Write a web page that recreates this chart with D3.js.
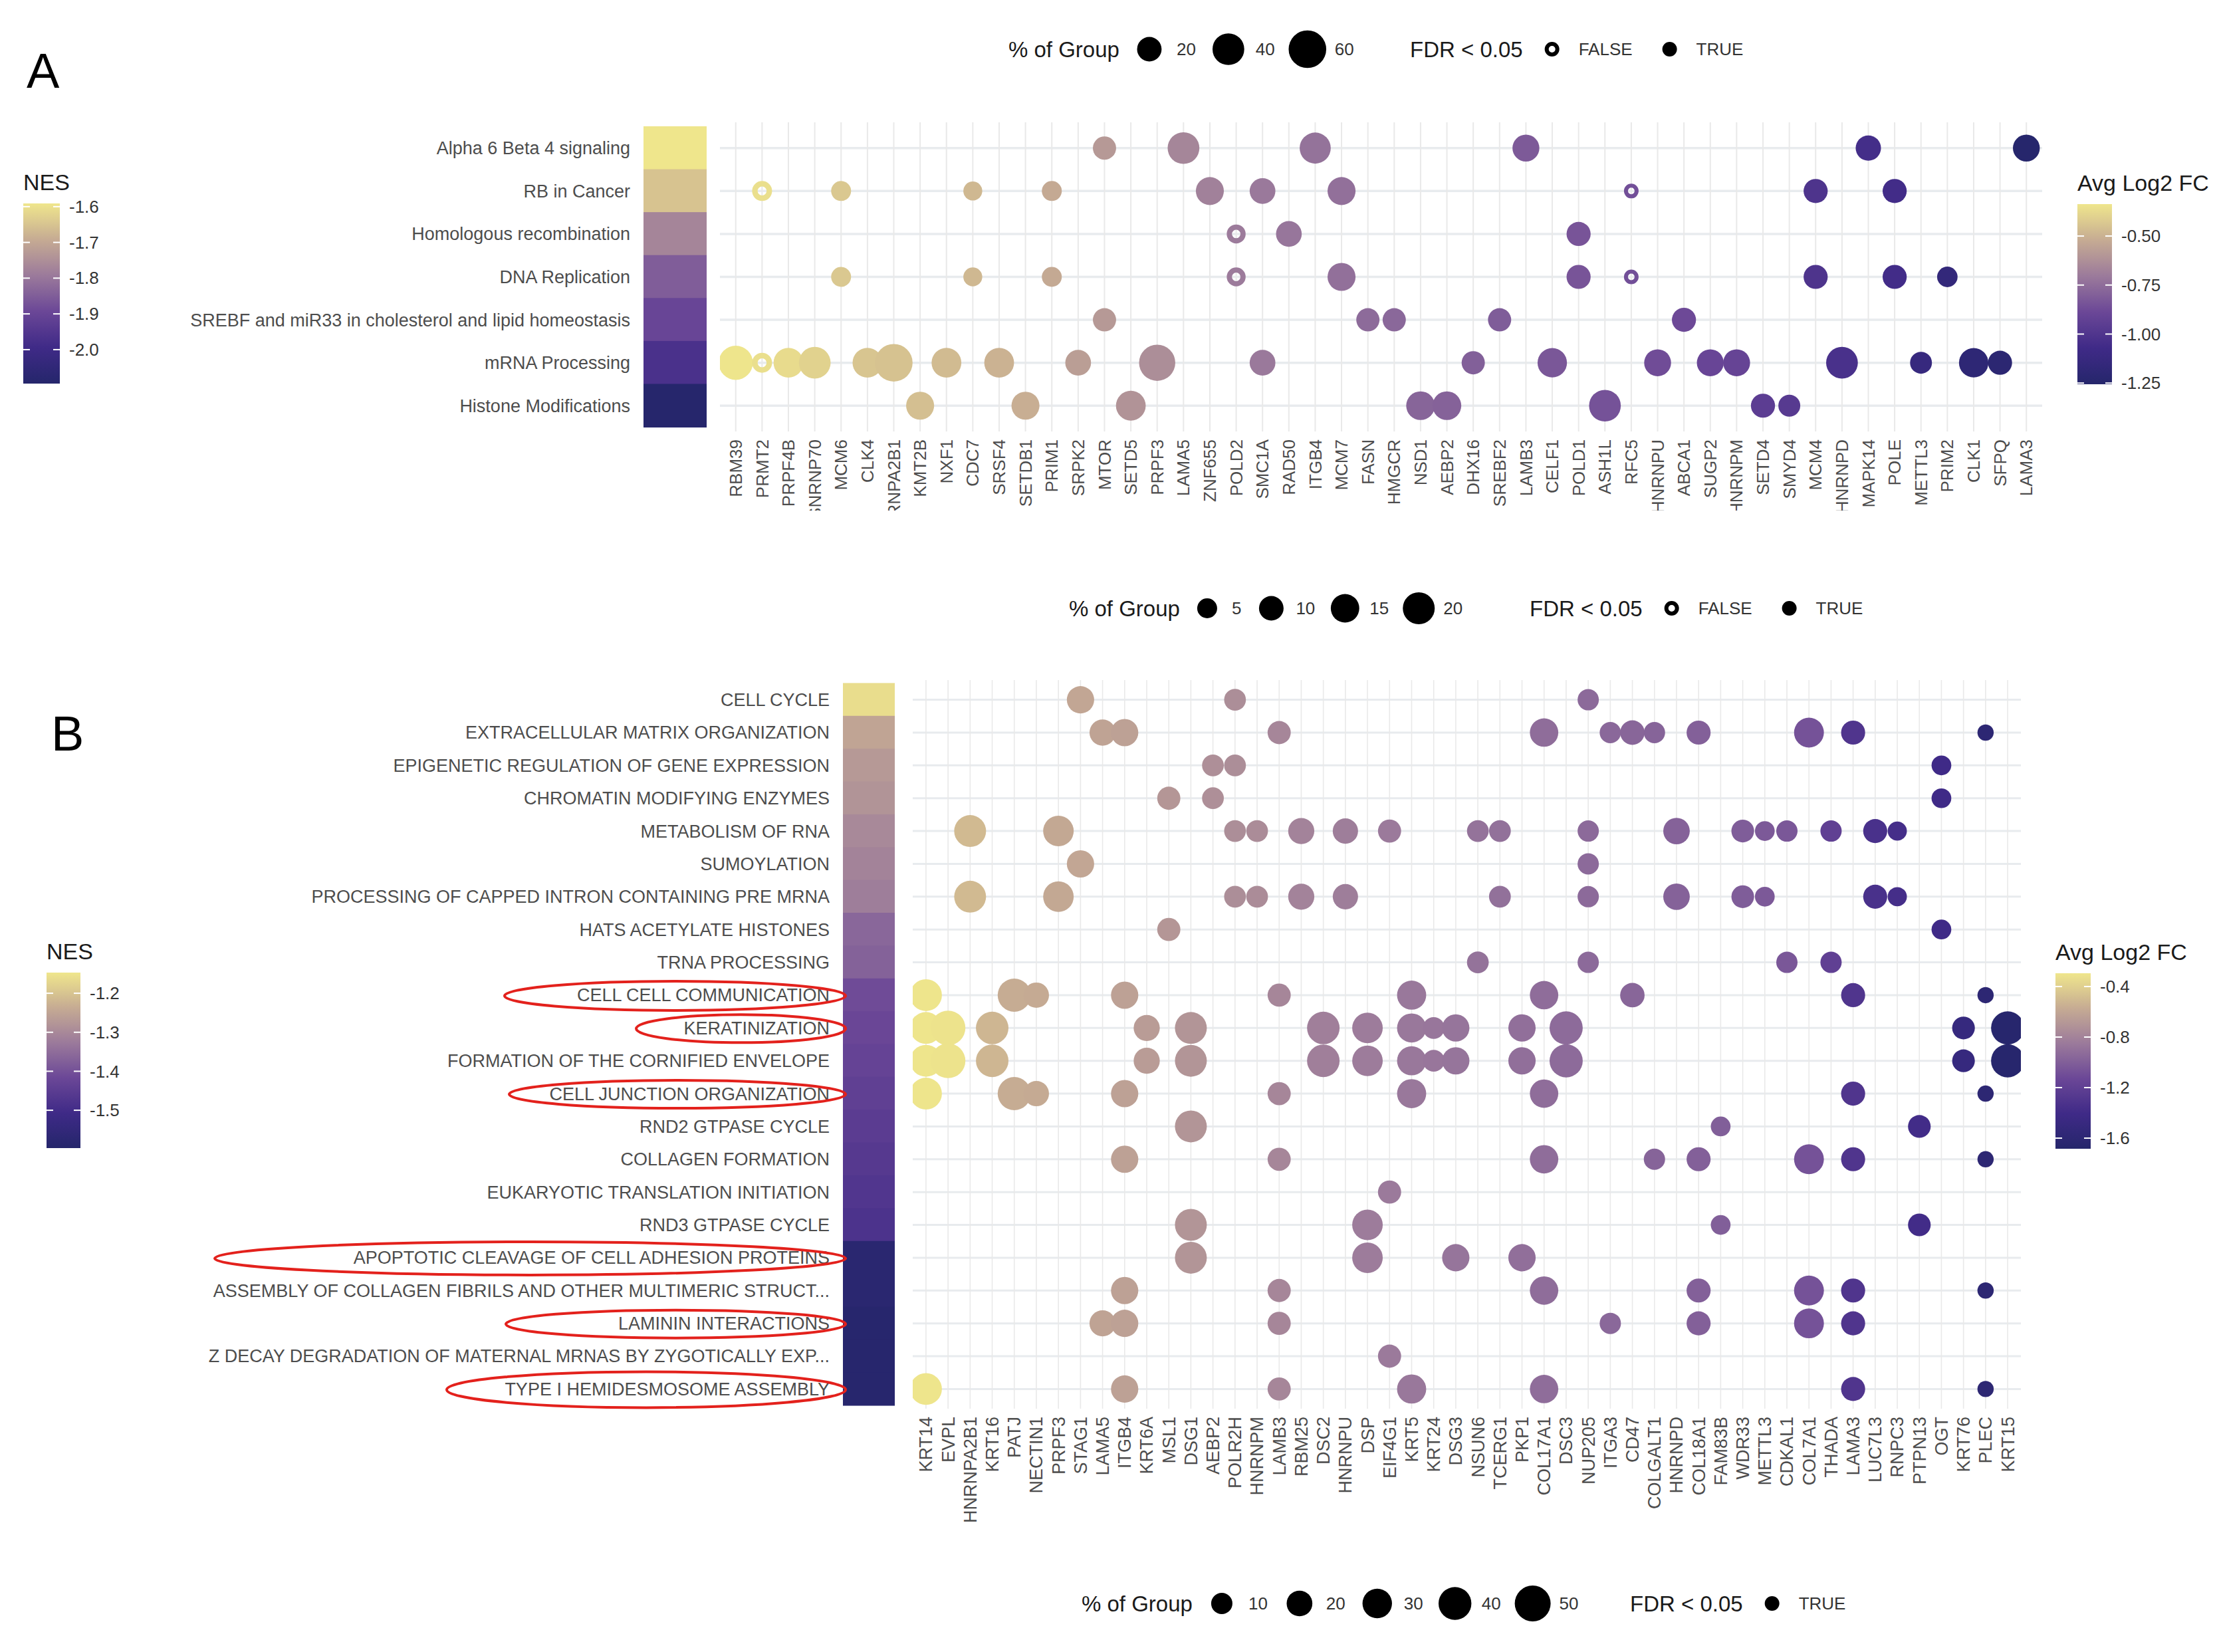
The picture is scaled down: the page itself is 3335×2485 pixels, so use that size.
<!DOCTYPE html>
<html>
<head>
<meta charset="utf-8">
<script src="https://cdn.jsdelivr.net/npm/d3@7"></script>
<style>
  body { margin: 0; background: #fff; }
  text { font-family: "Liberation Sans", Arial, sans-serif; }
</style>
</head>
<body>
<svg id="chart" width="3335" height="2485"></svg>
<script>
// ---- panel A data ----
var genesA = ["RBM39","PRMT2","PRPF4B","SNRNP70","MCM6","CLK4","HNRNPA2B1","KMT2B","NXF1","CDC7",
  "SRSF4","SETDB1","PRIM1","SRPK2","MTOR","SETD5","PRPF3","LAMA5","ZNF655","POLD2",
  "SMC1A","RAD50","ITGB4","MCM7","FASN","HMGCR","NSD1","AEBP2","DHX16","SREBF2",
  "LAMB3","CELF1","POLD1","ASH1L","RFC5","HNRNPU","ABCA1","SUGP2","HNRNPM","SETD4",
  "SMYD4","MCM4","HNRNPD","MAPK14","POLE","METTL3","PRIM2","CLK1","SFPQ","LAMA3"];
var pctA = [48,10,34,40,10,34,60,29,34,8, 34,29,10,23,17,34,55,40,29,8,
  23,23,38,29,17,17,31,31,17,17, 26,33,19,40,1,26,19,26,26,19,
  14,19,40,22,19,14,11,33,19,26];
var fcA = [-0.34,-0.36,-0.37,-0.40,-0.43,-0.44,-0.45,-0.46,-0.47,-0.48,
  -0.50,-0.51,-0.53,-0.57,-0.59,-0.61,-0.63,-0.66,-0.68,-0.70,
  -0.71,-0.72,-0.73,-0.74,-0.76,-0.77,-0.78,-0.79,-0.80,-0.81,
  -0.82,-0.83,-0.84,-0.85,-0.86,-0.87,-0.88,-0.90,-0.91,-0.95,
  -0.97,-1.01,-1.03,-1.05,-1.06,-1.13,-1.16,-1.19,-1.21,-1.25];
var notSigA = ["PRMT2","POLD2","RFC5"];
var pathwaysA = ["Alpha 6 Beta 4 signaling","RB in Cancer","Homologous recombination","DNA Replication",
  "SREBF and miR33 in cholesterol and lipid homeostasis","mRNA Processing","Histone Modifications"];
var nesA = [-1.59,-1.65,-1.77,-1.85,-1.90,-1.97,-2.09];
var membersA = [
  ["MTOR","LAMA5","ITGB4","LAMB3","MAPK14","LAMA3"],
  ["PRMT2","MCM6","CDC7","PRIM1","ZNF655","SMC1A","MCM7","RFC5","MCM4","POLE"],
  ["POLD2","RAD50","POLD1"],
  ["MCM6","CDC7","PRIM1","POLD2","MCM7","POLD1","RFC5","MCM4","POLE","PRIM2"],
  ["MTOR","FASN","HMGCR","SREBF2","ABCA1"],
  ["RBM39","PRMT2","PRPF4B","SNRNP70","CLK4","HNRNPA2B1","NXF1","SRSF4","SRPK2","PRPF3",
   "SMC1A","DHX16","CELF1","HNRNPU","SUGP2","HNRNPM","HNRNPD","METTL3","CLK1","SFPQ"],
  ["KMT2B","SETDB1","SETD5","NSD1","AEBP2","ASH1L","SETD4","SMYD4"]
];
var nesTicksA = [-1.6,-1.7,-1.8,-1.9,-2.0];
var fcTicksA = [-0.50,-0.75,-1.00,-1.25];
var sizeKeysA = [20,40,60];

// ---- panel B data ----
var genesB = ["KRT14","EVPL","HNRNPA2B1","KRT16","PATJ","NECTIN1","PRPF3","STAG1","LAMA5","ITGB4",
  "KRT6A","MSL1","DSG1","AEBP2","POLR2H","HNRNPM","LAMB3","RBM25","DSC2","HNRNPU",
  "DSP","EIF4G1","KRT5","KRT24","DSG3","NSUN6","TCERG1","PKP1","COL17A1","DSC3",
  "NUP205","ITGA3","CD47","COLGALT1","HNRNPD","COL18A1","FAM83B","WDR33","METTL3","CDKAL1",
  "COL7A1","THADA","LAMA3","LUC7L3","RNPC3","PTPN13","OGT","KRT76","PLEC","KRT15"];
var pctB = [37,46,37,39,41,19,33,24,21,24, 21,14,37,11,11,11,14,21,39,19,
  33,14,29,11,24,11,11,24,27,41, 10,10,17,10,22,16,7,13,7,10,
  31,10,16,16,6,13,7,13,1,41];
var fcB = [-0.30,-0.31,-0.50,-0.52,-0.57,-0.58,-0.59,-0.60,-0.62,-0.63,
  -0.66,-0.69,-0.70,-0.73,-0.74,-0.75,-0.78,-0.80,-0.82,-0.83,
  -0.84,-0.85,-0.86,-0.87,-0.88,-0.89,-0.90,-0.91,-0.92,-0.93,
  -0.94,-0.95,-0.96,-0.97,-0.98,-0.99,-1.00,-1.01,-1.03,-1.04,
  -1.07,-1.20,-1.30,-1.34,-1.37,-1.39,-1.41,-1.50,-1.60,-1.66];
var pathwaysB = ["CELL CYCLE","EXTRACELLULAR MATRIX ORGANIZATION","EPIGENETIC REGULATION OF GENE EXPRESSION",
  "CHROMATIN MODIFYING ENZYMES","METABOLISM OF RNA","SUMOYLATION","PROCESSING OF CAPPED INTRON CONTAINING PRE MRNA",
  "HATS ACETYLATE HISTONES","TRNA PROCESSING","CELL CELL COMMUNICATION","KERATINIZATION",
  "FORMATION OF THE CORNIFIED ENVELOPE","CELL JUNCTION ORGANIZATION","RND2 GTPASE CYCLE","COLLAGEN FORMATION",
  "EUKARYOTIC TRANSLATION INITIATION","RND3 GTPASE CYCLE","APOPTOTIC CLEAVAGE OF CELL ADHESION PROTEINS",
  "ASSEMBLY OF COLLAGEN FIBRILS AND OTHER MULTIMERIC STRUCT...","LAMININ INTERACTIONS",
  "Z DECAY DEGRADATION OF MATERNAL MRNAS BY ZYGOTICALLY EXP...","TYPE I HEMIDESMOSOME ASSEMBLY"];
var nesB = [-1.16,-1.25,-1.27,-1.28,-1.30,-1.31,-1.32,-1.36,-1.37,-1.41,-1.42,-1.43,-1.44,-1.45,-1.46,-1.47,-1.48,
  -1.58,-1.58,-1.59,-1.59,-1.59];
var keratin = ["KRT14","EVPL","KRT16","KRT6A","DSG1","DSC2","DSP","KRT5","KRT24","DSG3","PKP1","DSC3","KRT76","KRT15"];
var membersB = [
  ["STAG1","POLR2H","NUP205"],
  ["LAMA5","ITGB4","LAMB3","COL17A1","ITGA3","CD47","COLGALT1","COL18A1","COL7A1","LAMA3","PLEC"],
  ["AEBP2","POLR2H","OGT"],
  ["MSL1","AEBP2","OGT"],
  ["HNRNPA2B1","PRPF3","POLR2H","HNRNPM","RBM25","HNRNPU","EIF4G1","NSUN6","TCERG1","NUP205","HNRNPD",
   "WDR33","METTL3","CDKAL1","THADA","LUC7L3","RNPC3"],
  ["STAG1","NUP205"],
  ["HNRNPA2B1","PRPF3","POLR2H","HNRNPM","RBM25","HNRNPU","TCERG1","NUP205","HNRNPD","WDR33","METTL3","LUC7L3","RNPC3"],
  ["MSL1","OGT"],
  ["NSUN6","NUP205","CDKAL1","THADA"],
  ["KRT14","PATJ","NECTIN1","ITGB4","LAMB3","KRT5","COL17A1","CD47","LAMA3","PLEC"],
  keratin,
  keratin,
  ["KRT14","PATJ","NECTIN1","ITGB4","LAMB3","KRT5","COL17A1","LAMA3","PLEC"],
  ["DSG1","FAM83B","PTPN13"],
  ["ITGB4","LAMB3","COL17A1","COLGALT1","COL18A1","COL7A1","LAMA3","PLEC"],
  ["EIF4G1"],
  ["DSG1","DSP","FAM83B","PTPN13"],
  ["DSG1","DSP","DSG3","PKP1"],
  ["ITGB4","LAMB3","COL17A1","COL18A1","COL7A1","LAMA3","PLEC"],
  ["LAMA5","ITGB4","LAMB3","ITGA3","COL18A1","COL7A1","LAMA3"],
  ["EIF4G1"],
  ["KRT14","ITGB4","LAMB3","KRT5","COL17A1","LAMA3","PLEC"]
];
var nesTicksB = [-1.2,-1.3,-1.4,-1.5];
var fcTicksB = [-0.4,-0.8,-1.2,-1.6];
var sizeKeysBtop = [5,10,15,20];
var sizeKeysB = [10,20,30,40,50];

// hand drawn red circles around some pathway names (left edge of each loop)
var highlightsB = [
  {path: "CELL CELL COMMUNICATION", left: 759, ry: 22},
  {path: "KERATINIZATION", left: 957, ry: 21},
  {path: "CELL JUNCTION ORGANIZATION", left: 766, ry: 21},
  {path: "APOPTOTIC CLEAVAGE OF CELL ADHESION PROTEINS", left: 323, ry: 25},
  {path: "LAMININ INTERACTIONS", left: 761, ry: 21},
  {path: "TYPE I HEMIDESMOSOME ASSEMBLY", left: 672, ry: 27}
];

var svg = d3.select("#chart");
svg.append("rect").attr("width", 3335).attr("height", 2485).attr("fill", "#fff");

var palette = d3.piecewise(d3.interpolateRgb, ["#25266b","#3f2a87","#6b4797","#9b7a9b","#c6ab93","#efe68c"]);
var defs = svg.append("defs");

// ggplot prints a plain hyphen for negatives
function hyphen(f) { return function(v) { return f(v).replace("\u2212", "-"); }; }

function drawPanel(o) {
  var x = d3.scalePoint().domain(o.genes).range([o.left, o.right]).padding(0.6);
  var y = d3.scalePoint().domain(o.paths).range([o.top, o.bottom]).padding(0.6);
  var color = d3.scaleSequential(palette).domain(o.fcDomain).clamp(true);
  var nesColor = d3.scaleSequential(palette).domain(o.nesDomain).clamp(true);
  var area = d3.scaleLinear().domain(o.areaDomain).range(o.areaRange);
  var radius = function(p) { return Math.sqrt(Math.max(area(p), 20)); };
  var step = y.step();

  var g = svg.append("g");

  // grid
  g.append("g").selectAll("line").data(o.paths).enter().append("line")
      .attr("x1", o.left).attr("x2", o.right)
      .attr("y1", function(d) { return y(d); }).attr("y2", function(d) { return y(d); })
      .attr("stroke", "#e8ebee").attr("stroke-width", o.hGrid);
  g.append("g").selectAll("line").data(o.genes).enter().append("line")
      .attr("x1", function(d) { return x(d); }).attr("x2", function(d) { return x(d); })
      .attr("y1", o.top).attr("y2", o.bottom)
      .attr("stroke", "#e9e9e9").attr("stroke-width", o.vGrid);

  // NES tiles
  g.append("g").selectAll("rect").data(o.paths).enter().append("rect")
      .attr("x", o.tileX).attr("width", o.tileW)
      .attr("y", function(d) { return y(d) - step / 2 - 0.5; })
      .attr("height", step + 1)
      .attr("fill", function(d, i) { return nesColor(o.nes[i]); });

  g.append("g").selectAll("text").data(o.paths).enter().append("text")
      .attr("x", o.tileX - 20).attr("y", function(d) { return y(d); })
      .attr("dy", "0.35em").attr("text-anchor", "end")
      .attr("font-size", 27).attr("fill", "#4d4d4d")
      .text(function(d) { return d; });

  // dots
  var clipId = o.id + "clip";
  defs.append("clipPath").attr("id", clipId).append("rect")
      .attr("x", o.left).attr("y", o.top)
      .attr("width", o.right - o.left).attr("height", o.bottom - o.top);

  var pts = [];
  o.members.forEach(function(list, i) {
    list.forEach(function(gene) {
      var k = o.genes.indexOf(gene);
      pts.push({path: o.paths[i], gene: gene, pct: o.pct[k], fc: o.fc[k], sig: o.notSig.indexOf(gene) < 0});
    });
  });

  var dots = g.append("g").attr("clip-path", "url(#" + clipId + ")");
  dots.selectAll("circle").data(pts).enter().append("circle")
      .attr("cx", function(d) { return x(d.gene); })
      .attr("cy", function(d) { return y(d.path); })
      .attr("r", function(d) { var r = radius(d.pct); return d.sig ? r : r - r * 0.275; })
      .attr("fill", function(d) { return d.sig ? color(d.fc) : "none"; })
      .attr("stroke", function(d) { return d.sig ? "none" : color(d.fc); })
      .attr("stroke-width", function(d) { return d.sig ? 0 : radius(d.pct) * 0.55; });

  // gene labels
  var labClip = o.id + "labclip";
  defs.append("clipPath").attr("id", labClip).append("rect")
      .attr("x", o.left - 50).attr("y", o.bottom).attr("width", o.right - o.left + 100)
      .attr("height", o.labelClip - o.bottom);
  g.append("g").attr("clip-path", "url(#" + labClip + ")")
    .selectAll("text").data(o.genes).enter().append("text")
      .attr("transform", function(d) { return "translate(" + x(d) + "," + (o.bottom + 12) + ") rotate(-90)"; })
      .attr("dy", "0.35em").attr("text-anchor", "end")
      .attr("font-size", o.geneFont).attr("fill", "#4d4d4d")
      .text(function(d) { return d; });

  return {x: x, y: y, radius: radius, color: color, nesColor: nesColor};
}

function colorbar(sc, x0, y0, y1, w, title, ticks, fmt) {
  var id = "grad" + Math.round(x0) + "_" + Math.round(y0);
  var lg = defs.append("linearGradient").attr("id", id)
      .attr("x1", 0).attr("y1", 1).attr("x2", 0).attr("y2", 0);
  var dom = sc.domain();
  d3.range(0, 1.0001, 0.05).forEach(function(t) {
    lg.append("stop").attr("offset", t).attr("stop-color", sc(dom[0] + t * (dom[1] - dom[0])));
  });
  var pos = d3.scaleLinear().domain(dom).range([y1, y0]);
  svg.append("text").attr("x", x0).attr("y", y0 - 20).attr("font-size", 34).attr("fill", "#1a1a1a").text(title);
  svg.append("rect").attr("x", x0).attr("y", y0).attr("width", w).attr("height", y1 - y0)
      .attr("fill", "url(#" + id + ")");
  ticks.forEach(function(t) {
    var yy = pos(t);
    svg.append("line").attr("x1", x0).attr("x2", x0 + 10).attr("y1", yy).attr("y2", yy)
        .attr("stroke", "#fff").attr("stroke-width", 2);
    svg.append("line").attr("x1", x0 + w - 10).attr("x2", x0 + w).attr("y1", yy).attr("y2", yy)
        .attr("stroke", "#fff").attr("stroke-width", 2);
    svg.append("text").attr("x", x0 + w + 14).attr("y", yy).attr("dy", "0.35em")
        .attr("font-size", 26).attr("fill", "#333").text(fmt(t));
  });
}

function sizeLegend(x0, yc, keys, rOf, keyW) {
  var t = svg.append("text").attr("x", x0).attr("y", yc).attr("dy", "0.35em")
      .attr("font-size", 33).attr("fill", "#1a1a1a").text("% of Group");
  var cur = x0 + t.node().getComputedTextLength() + 16;
  keys.forEach(function(v) {
    svg.append("circle").attr("cx", cur + keyW / 2).attr("cy", yc).attr("r", rOf(v)).attr("fill", "#000");
    var l = svg.append("text").attr("x", cur + keyW + 12).attr("y", yc).attr("dy", "0.35em")
        .attr("font-size", 26).attr("fill", "#333").text(v);
    cur = cur + keyW + 12 + l.node().getComputedTextLength() + 20;
  });
}

function fdrLegend(x0, yc, showFalse) {
  var t = svg.append("text").attr("x", x0).attr("y", yc).attr("dy", "0.35em")
      .attr("font-size", 33).attr("fill", "#1a1a1a").text("FDR < 0.05");
  var cur = x0 + t.node().getComputedTextLength() + 18;
  var items = showFalse ? ["FALSE", "TRUE"] : ["TRUE"];
  items.forEach(function(v) {
    if (v === "FALSE") {
      svg.append("circle").attr("cx", cur + 26).attr("cy", yc).attr("r", 8)
          .attr("fill", "none").attr("stroke", "#000").attr("stroke-width", 6);
    } else {
      svg.append("circle").attr("cx", cur + 26).attr("cy", yc).attr("r", 11).attr("fill", "#000");
    }
    var l = svg.append("text").attr("x", cur + 66).attr("y", yc).attr("dy", "0.35em")
        .attr("font-size", 26).attr("fill", "#333").text(v);
    cur = cur + 66 + l.node().getComputedTextLength() + 30;
  });
}

// ---- panel A ----
var pA = drawPanel({
  id: "A", genes: genesA, paths: pathwaysA, pct: pctA, fc: fcA, nes: nesA, members: membersA, notSig: notSigA,
  left: 1083, right: 3072, top: 184, bottom: 649,
  tileX: 968, tileW: 95, fcDomain: [-1.256, -0.337], nesDomain: [-2.095, -1.591],
  areaDomain: [0, 60], areaRange: [110, 800], hGrid: 3.5, vGrid: 2, geneFont: 26, labelClip: 768
});
colorbar(pA.nesColor, 35, 306, 577, 55, "NES", nesTicksA, hyphen(d3.format(".1f")));
colorbar(pA.color, 3125, 307, 578, 52, "Avg Log2 FC", fcTicksA, hyphen(d3.format(".2f")));
sizeLegend(1517, 74, sizeKeysA, pA.radius, 58);
fdrLegend(2121, 74, true);
svg.append("text").attr("x", 40).attr("y", 132).attr("font-size", 74).attr("fill", "#000").text("A");

// ---- panel B ----
var pB = drawPanel({
  id: "B", genes: genesB, paths: pathwaysB, pct: pctB, fc: fcB, nes: nesB, members: membersB, notSig: [],
  left: 1373, right: 3040, top: 1023, bottom: 2119,
  tileX: 1268, tileW: 78, fcDomain: [-1.684, -0.295], nesDomain: [-1.597, -1.147],
  areaDomain: [10, 50], areaRange: [256, 729], hGrid: 3, vGrid: 1.6, geneFont: 27, labelClip: 2340
});
colorbar(pB.nesColor, 70, 1463, 1727, 51, "NES", nesTicksB, hyphen(d3.format(".1f")));
colorbar(pB.color, 3092, 1464, 1728, 53, "Avg Log2 FC", fcTicksB, hyphen(d3.format(".1f")));
var topArea = d3.scaleLinear().domain([5, 20]).range([225, 576]);
sizeLegend(1608, 915, sizeKeysBtop, function(v) { return Math.sqrt(topArea(v)); }, 50);
fdrLegend(2301, 915, true);
sizeLegend(1627, 2412, sizeKeysB, pB.radius, 56);
fdrLegend(2452, 2412, false);
svg.append("text").attr("x", 77).attr("y", 1129).attr("font-size", 74).attr("fill", "#000").text("B");

// red loops
highlightsB.forEach(function(h) {
  var right = 1272;
  svg.append("ellipse")
      .attr("cx", (h.left + right) / 2).attr("cy", pB.y(h.path) + 1)
      .attr("rx", (right - h.left) / 2).attr("ry", h.ry)
      .attr("fill", "none").attr("stroke", "#e3211c").attr("stroke-width", 4);
});
</script>
</body>
</html>
